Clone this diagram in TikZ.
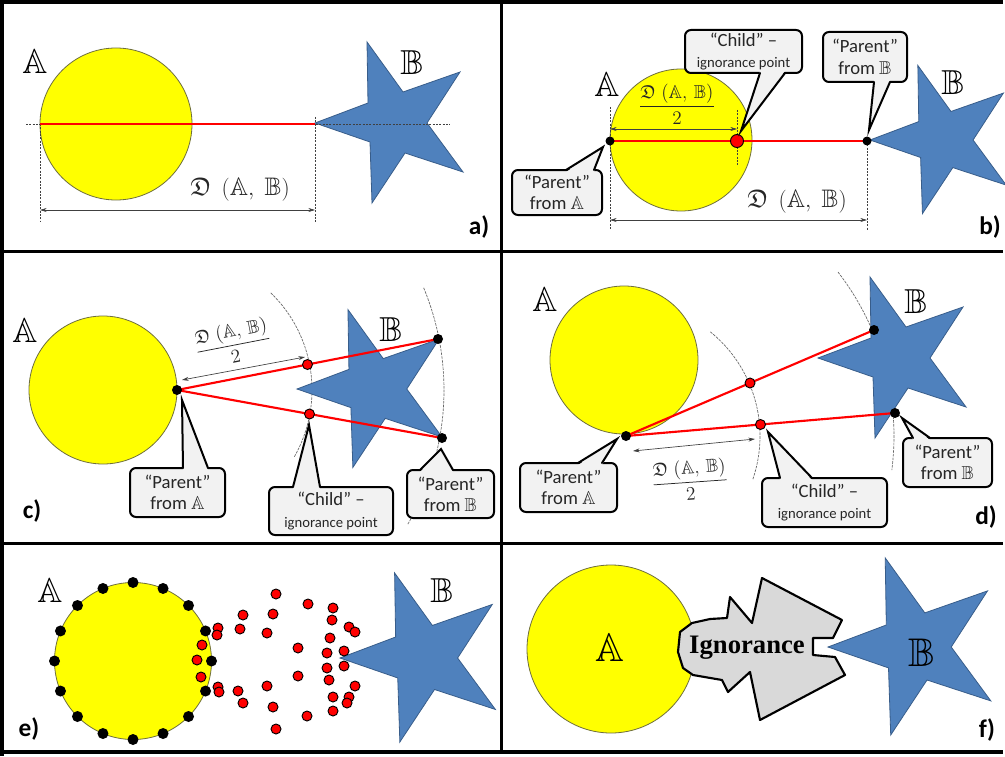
\documentclass[tikz,border=0pt]{standalone}
\usepackage{amssymb}
\usepackage[no-math]{fontspec}
\setmainfont{Carlito}
\newfontfamily\ignfont{Liberation Serif}
\usetikzlibrary{calc,arrows.meta}
\newdimen\pxu \pxu=0.75pt
\definecolor{starblue}{RGB}{79,129,189}
\definecolor{stardraw}{RGB}{56,93,138}
\definecolor{sunyel}{RGB}{255,255,0}
\definecolor{sunline}{RGB}{110,110,60}
\definecolor{callfill}{RGB}{242,242,242}
\definecolor{blobfill}{RGB}{217,217,217}
\tikzset{
  framestyle/.style={line width=4\pxu, black},
  sunnode/.style={circle, fill=sunyel, draw=sunline, line width=0.6pt, inner sep=0pt, outer sep=0pt},
  starshape/.style={fill=starblue, draw=stardraw, line width=0.6pt, line join=miter},
  redline/.style={red, line width=1.6pt},
  guide/.style={black!75, line width=0.4pt, dash pattern=on 1.5pt off 1pt},
  arcguide/.style={black!60, line width=0.5pt, dash pattern=on 2pt off 0.8pt},
  dimarrow/.style={black!75, line width=0.5pt, {Stealth[length=5pt,width=3pt]}-{Stealth[length=5pt,width=3pt]}},
  bdot/.style={circle, fill=black, inner sep=0pt, minimum size=10\pxu},
  rdot/.style={circle, fill=red, draw=black, line width=0.7pt, inner sep=0pt, minimum size=10\pxu},
  letter/.style={font=\fontsize{26}{27}\selectfont, inner sep=0pt},
  bigletter/.style={font=\fontsize{30}{31}\selectfont, inner sep=0pt},
  tag/.style={font=\fontsize{19}{19}\selectfont\bfseries, inner sep=0pt},
  dlabel/.style={font=\fontsize{19}{19}\selectfont, inner sep=0pt, text=black!85},
  fraclabel/.style={font=\fontsize{14}{14}\selectfont, inner sep=0pt, text=black!85},
  callbox/.style={draw=black, fill=callfill, line width=1.5pt, rounded corners=4.5pt, align=center,
    inner sep=0pt, outer sep=0pt, font=\fontsize{14}{16}\selectfont, text=black!85},
  callptr/.style={draw=black, line width=1.5pt, line join=miter, line cap=round},
  blob/.style={fill=blobfill, draw=black, line width=1.6pt, line join=round},
}
\newcommand\bluestar[3]{\draw[starshape, shift={(#1,#2)}, scale=#3] (0,0) -- (53,-20) -- (52,-81) -- (88,-31) -- (145,-51) -- (112,0) -- (148,49) -- (90,30) -- (57,80) -- (55,19) -- cycle;}
\newcommand\calloutptr[6]{%
  \fill[callfill] ($(#4,0 |- #1.#2)+(0,#3)$) -- (#6) -- ($(#5,0 |- #1.#2)+(0,#3)$) -- cycle;
  \draw[callptr] (#4,0 |- #1.#2) -- (#6) -- (#5,0 |- #1.#2);}
\newcommand\dab{\mathfrak{D}\;\,(\mathbb{A},\;\mathbb{B})}
\newcommand\halfdab{$\displaystyle\frac{\mathfrak{D}\;(\mathbb{A},\,\mathbb{B})}{2}$}
\newcommand\childtext{“Child” –\\{\fontsize{11}{13}\selectfont ignorance point}}
\begin{document}
\begin{tikzpicture}[x=0.75pt, y=-0.75pt]
\useasboundingbox (0,0) rectangle (1005,756);
\fill[white] (0,0) rectangle (1005,756);

% ---------- panel a ----------
\begin{scope}
\clip (4,4) rectangle (500,250);
\node[sunnode, minimum size=152\pxu] (sunA) at (116,124) {};
\bluestar{315}{123}{1}
\coordinate (aL) at (40,124);
\coordinate (aR) at (315,124);
\draw[guide] (26,124) -- (450,124);
\draw[guide] (40,124) -- (40,222);
\draw[guide] (315,117) -- (315,222);
\draw[redline] (aL) -- (aR);
\coordinate (aD1) at (40,210);
\coordinate (aD2) at (315,210);
\draw[dimarrow] (aD1) -- (aD2);
\node[dlabel] (aLab) at (240,190) {$\dab$};
\node[letter] (aA) at (35,62) {$\mathbb{A}$};
\node[letter] (aB) at (412,63) {$\mathbb{B}$};
\node[tag] (aTag) at (479,227) {a)};
\end{scope}

% ---------- panel b ----------
\begin{scope}
\clip (503,4) rectangle (1005,250);
\node[sunnode, minimum size=142\pxu] (sunB) at (681,140) {};
\bluestar{870}{140}{0.92}
\coordinate (bpa) at (610,141);
\coordinate (bpb) at (867,141);
\coordinate (bch) at (737,141);
\draw[guide] (610,107) -- (610,230);
\draw[guide] (737,110) -- (737,165);
\draw[guide] (867,141) -- (867,230);
\draw[redline] (bpa) -- (bpb);
\node[bdot, minimum size=9\pxu] (bPA) at (bpa) {};
\node[bdot, minimum size=9\pxu] (bPB) at (bpb) {};
\node[rdot, minimum size=13\pxu] (bCH) at (bch) {};
\coordinate (bD1) at (610,129);
\coordinate (bD2) at (737,129);
\draw[dimarrow] (bD1) -- (bD2);
\coordinate (bE1) at (610,220);
\coordinate (bE2) at (867,220);
\draw[dimarrow] (bE1) -- (bE2);
\node[fraclabel] (bFrac) at (677,104) {\halfdab};
\node[dlabel] (bLab) at (797,202) {$\dab$};
\node[letter] (bA) at (607,85) {$\mathbb{A}$};
\node[letter] (bB) at (953,83) {$\mathbb{B}$};
\node[callbox, minimum width=117\pxu, minimum height=43\pxu] (bChild) at (743.5,51.5) {\childtext};
\coordinate (bChildTip) at (741,131);
\calloutptr{bChild}{south}{-2}{760}{785}{bChildTip}
\node[callbox, minimum width=84\pxu, minimum height=50\pxu] (bParB) at (865,57) {“Parent”\\from $\mathbb{B}$};
\coordinate (bParBTip) at (869,130);
\calloutptr{bParB}{south}{-2}{874}{890}{bParBTip}
\node[callbox, minimum width=90\pxu, minimum height=45\pxu] (bParA) at (557,192.5) {“Parent”\\from $\mathbb{A}$};
\coordinate (bParATip) at (603,147);
\calloutptr{bParA}{north}{2}{566}{594}{bParATip}
\node[tag] (bTag) at (990,227) {b)};
\end{scope}

% ---------- panel c ----------
\begin{scope}
\clip (4,253) rectangle (500,542);
\node[sunnode, minimum size=148\pxu] (sunC) at (103,390) {};
\coordinate (cpa) at (177,390);
\coordinate (cpb1) at (438,339);
\coordinate (cpb2) at (442,438);
\coordinate (cc1) at ($(cpa)!0.5!(cpb1)$);
\coordinate (cc2) at ($(cpa)!0.5!(cpb2)$);
\draw[arcguide] (cpa) ++(-46:135) arc[start angle=-46, end angle=30, radius=135];
\draw[arcguide] (cpa) ++(-22.5:267) arc[start angle=-22.5, end angle=30.3, radius=267];
\bluestar{297}{389}{0.98}
\draw[redline] (cpa) -- (cpb1);
\draw[redline] (cpa) -- (cpb2);
\node[bdot] (cPA) at (cpa) {};
\node[bdot] (cPB1) at (cpb1) {};
\node[bdot] (cPB2) at (cpb2) {};
\node[rdot] (cC1) at (cc1) {};
\node[rdot] (cC2) at (cc2) {};
\coordinate (cD1) at (182,380);
\coordinate (cD2) at (305,357);
\draw[dimarrow] (cD1) -- (cD2);
\node[fraclabel, rotate=11] (cFrac) at (233,343) {\halfdab};
\node[letter] (cA) at (25,331) {$\mathbb{A}$};
\node[letter] (cB) at (391,330) {$\mathbb{B}$};
\node[callbox, minimum width=95\pxu, minimum height=49\pxu] (cParA) at (177.5,492.5) {“Parent”\\from $\mathbb{A}$};
\coordinate (cParATip) at (182,400);
\calloutptr{cParA}{north}{2}{183}{208}{cParATip}
\node[callbox, minimum width=124\pxu, minimum height=48\pxu] (cChild) at (331,511) {\childtext};
\coordinate (cChildTip) at (309,425);
\calloutptr{cChild}{north}{2}{293}{320}{cChildTip}
\node[callbox, minimum width=87\pxu, minimum height=48\pxu] (cParB) at (450.5,494) {“Parent”\\from $\mathbb{B}$};
\coordinate (cParBTip) at (441,449);
\calloutptr{cParB}{north}{2}{420}{453}{cParBTip}
\node[tag] (cTag) at (32,511) {c)};
\end{scope}

% ---------- panel d ----------
\begin{scope}
\clip (503,253) rectangle (1005,542);
\node[sunnode, minimum size=148\pxu] (sunD) at (624,360) {};
\coordinate (dpa) at (626,436);
\coordinate (dpb1) at (874,330);
\coordinate (dpb2) at (895,413);
\coordinate (dc1) at ($(dpa)!0.5!(dpb1)$);
\coordinate (dc2) at ($(dpa)!0.5!(dpb2)$);
\draw[arcguide] (dpa) ++(-51:134) arc[start angle=-51, end angle=19, radius=134];
\draw[arcguide] (dpa) ++(-37.7:268) arc[start angle=-37.7, end angle=7.3, radius=268];
\bluestar{818}{358}{1}
\draw[redline] (dpa) -- (dpb1);
\draw[redline] (dpa) -- (dpb2);
\node[bdot] (dPA) at (dpa) {};
\node[bdot] (dPB1) at (dpb1) {};
\node[bdot] (dPB2) at (dpb2) {};
\node[rdot] (dC1) at (dc1) {};
\node[rdot] (dC2) at (dc2) {};
\coordinate (dD1) at (633,451);
\coordinate (dD2) at (755,439);
\draw[dimarrow] (dD1) -- (dD2);
\node[fraclabel, rotate=4] (dFrac) at (690,480) {\halfdab};
\node[letter] (dA) at (545,300) {$\mathbb{A}$};
\node[letter] (dB) at (916,302) {$\mathbb{B}$};
\node[callbox, minimum width=97\pxu, minimum height=49\pxu] (dParA) at (568.5,487.5) {“Parent”\\from $\mathbb{A}$};
\coordinate (dParATip) at (617,439);
\calloutptr{dParA}{north}{2}{578}{602}{dParATip}
\node[callbox, minimum width=125\pxu, minimum height=49\pxu] (dChild) at (824.5,502.5) {\childtext};
\coordinate (dChildTip) at (768,432);
\calloutptr{dChild}{north}{2}{780}{812}{dChildTip}
\node[callbox, minimum width=89\pxu, minimum height=49\pxu] (dParB) at (947.5,462.5) {“Parent”\\from $\mathbb{B}$};
\coordinate (dParBTip) at (902,418);
\calloutptr{dParB}{north}{2}{913}{930}{dParBTip}
\node[tag] (dTag) at (986,517) {d)};
\end{scope}

% ---------- panel e ----------
\begin{scope}
\clip (4,545) rectangle (500,751);
\node[sunnode, minimum size=157\pxu] (sunE) at (133,661) {};
\bluestar{340}{658}{1.05}
\foreach \a [count=\i] in {0,22.5,...,337.5}
  \node[bdot, minimum size=11\pxu] (eP\i) at ($(133,661)+(\a:78.5)$) {};
\foreach \x/\y [count=\i] in {218/628,217/635,202/645,197/660,201/677,218/687,219/692,
  243/615,240/629,238/691,243/703,276/594,273/614,267/633,267/686,273/707,276/729,
  308/604,298/648,298/676,307/716,333/608,332/620,330/638,327/653,327/668,329/680,
  333/697,333/711,349/627,355/632,344/651,344/666,355/686,349/697,347/703}
  \node[rdot, minimum size=10\pxu] (eC\i) at (\x,\y) {};
\node[letter] (eA) at (50,591) {$\mathbb{A}$};
\node[letter] (eB) at (442,591) {$\mathbb{B}$};
\node[tag] (eTag) at (29,729) {e)};
\end{scope}

% ---------- panel f ----------
\begin{scope}
\clip (503,545) rectangle (1005,751);
\node[sunnode, minimum size=168\pxu] (sunF) at (611,649) {};
\draw[blob] (680,632) -- (692,623) -- (710,619) -- (727,618) -- (730,597) -- (752,623)
  -- (762,578) -- (842,620) -- (833,638) -- (813,638) -- (813,655) -- (835,657)
  -- (845,675) -- (760,720) -- (750,672) -- (728,692) -- (722,680) -- (693,675)
  -- (683,668) -- (678,652) -- cycle;
\bluestar{828}{647}{1.1}
\node[inner sep=0pt, font=\ignfont\bfseries\fontsize{20}{20}\selectfont] (fIgn) at (747,648) {Ignorance};
\node[bigletter] (fA) at (610,648) {$\mathbb{A}$};
\node[bigletter] (fB) at (922,653) {$\mathbb{B}$};
\node[tag] (fTag) at (987,730) {f)};
\end{scope}

% ---------- frames ----------
\draw[framestyle] (2,2) -- (1003,2);
\draw[framestyle] (2,0) -- (2,756);
\draw[framestyle] (0,752) -- (1003,752);
\draw[line width=3.5\pxu] (2,251.5) -- (1003,251.5);
\draw[line width=3.5\pxu] (2,543.5) -- (1003,543.5);
\draw[line width=3.5\pxu] (501.5,2) -- (501.5,754);
\end{tikzpicture}
\end{document}
